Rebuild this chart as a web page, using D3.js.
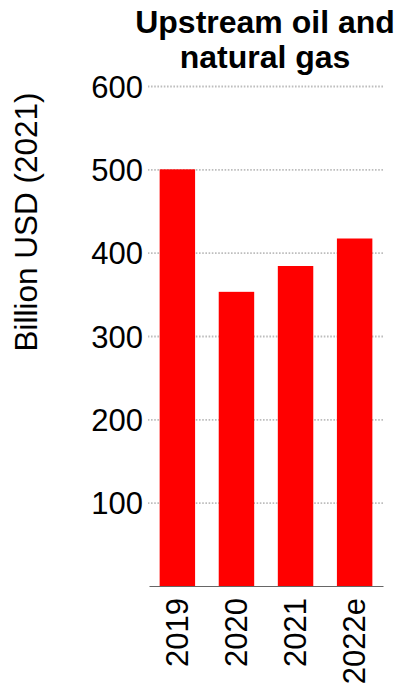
<!DOCTYPE html>
<html>
<head>
<meta charset="utf-8">
<script src="https://cdn.jsdelivr.net/npm/d3@7"></script>
<style>
  body { margin: 0; background: #fff; }
  svg text { font-family: "Liberation Sans", Arial, sans-serif; fill: #000; }
</style>
</head>
<body>
<svg id="chart" width="398" height="689"></svg>
<script>
// chart data
const years = ["2019", "2020", "2021", "2022e"];
const investment = [500, 353, 384, 417];
const yTicks = [100, 200, 300, 400, 500, 600];
const titleLines = ["Upstream oil and", "natural gas"];
const yLabel = "Billion USD (2021)";

const svg = d3.select("#chart");

const plotLeft = 149, plotRight = 383, plotTop = 86, plotBottom = 586;

const x = d3.scaleBand()
    .domain(years)
    .range([plotLeft, plotRight])
    .paddingInner(0.4)
    .paddingOuter(0.18);

const y = d3.scaleLinear()
    .domain([0, 600])
    .range([plotBottom, plotTop]);

// gridlines + tick labels
const yAxis = svg.append("g")
    .attr("class", "y-axis")
    .attr("transform", "translate(" + plotRight + ",0)")
    .call(d3.axisLeft(y).tickValues(yTicks).tickSize(plotRight - plotLeft + 1).tickPadding(5));

yAxis.select(".domain").remove();
yAxis.selectAll(".tick line")
    .attr("stroke", "#bdbdbd")
    .attr("stroke-width", 1.8)
    .attr("stroke-dasharray", "1.6,1.6");
yAxis.selectAll(".tick text")
    .attr("font-size", 31)
    .attr("fill", "#000")
    .attr("dy", "0.36em")
    .style("font-family", "'Liberation Sans', Arial, sans-serif");

// bars
svg.append("g")
    .selectAll("rect")
    .data(years)
    .join("rect")
    .attr("x", d => x(d))
    .attr("y", (d, i) => y(investment[i]))
    .attr("width", x.bandwidth())
    .attr("height", (d, i) => y(0) - y(investment[i]))
    .attr("fill", "#ff0000");

// baseline axis
const xAxis = svg.append("g")
    .attr("transform", "translate(0," + y(0) + ")")
    .call(d3.axisBottom(x).tickSize(0).tickPadding(0));

xAxis.select(".domain")
    .attr("stroke", "#666")
    .attr("stroke-width", 1.2);

xAxis.selectAll(".tick text")
    .attr("font-size", 31)
    .attr("fill", "#000")
    .attr("text-anchor", "end")
    .attr("transform", "rotate(-90)")
    .attr("x", -12)
    .attr("y", 0)
    .attr("dy", "0.34em")
    .style("font-family", "'Liberation Sans', Arial, sans-serif");

// title
svg.append("text")
    .attr("x", 265)
    .attr("text-anchor", "middle")
    .attr("font-size", 32)
    .attr("font-weight", "bold")
    .selectAll("tspan")
    .data(titleLines)
    .join("tspan")
    .attr("x", 265)
    .attr("y", (d, i) => 33 + i * 35)
    .text(d => d);

// y label
svg.append("text")
    .attr("transform", "translate(37," + 222 + ") rotate(-90)")
    .attr("text-anchor", "middle")
    .attr("font-size", 31.5)
    .text(yLabel);
</script>
</body>
</html>
